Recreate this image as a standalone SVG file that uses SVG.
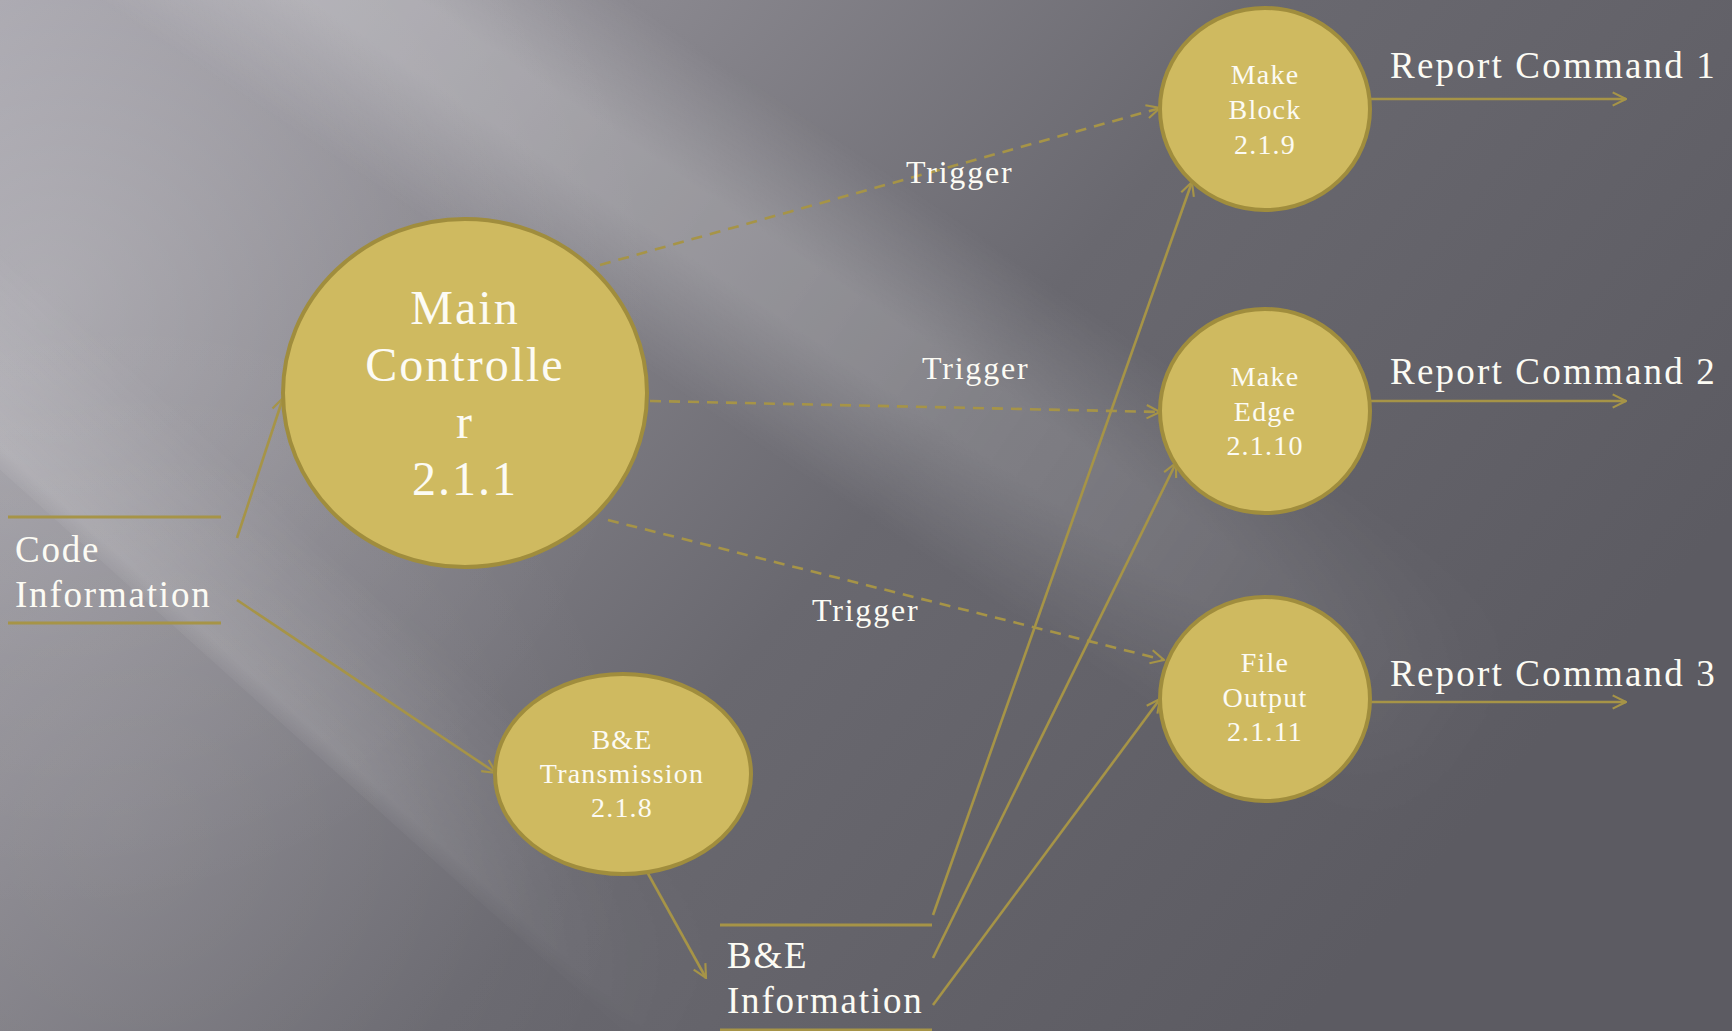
<svg xmlns="http://www.w3.org/2000/svg" width="1732" height="1031" viewBox="0 0 1732 1031">
  <style>
    .bubble { fill: #cfba60; stroke: #a08d3d; stroke-width: 4; }
    .flow { fill: none; stroke: #a69447; stroke-width: 2.6; }
    .trig { fill: none; stroke: #a69447; stroke-width: 2.6; stroke-dasharray: 11 8; }
    .store { stroke: #a69447; stroke-width: 3; }
    .lbl { fill: #fcfbf4; font-family: "Liberation Serif", "Times New Roman", serif; }
    .big { font-size: 48px; letter-spacing: 2px; text-anchor: middle; }
    .small { font-size: 28px; letter-spacing: 1.2px; text-anchor: middle; }
    .trg { font-size: 32px; letter-spacing: 1.8px; }
    .rep { font-size: 37px; letter-spacing: 2.2px; }
    .data { font-size: 37px; letter-spacing: 1.8px; }
  </style>
  <defs>
    <linearGradient id="bgBase" x1="0" y1="0" x2="1" y2="0.5">
      <stop offset="0" stop-color="#a6a4ac"/>
      <stop offset="0.3" stop-color="#8a888f"/>
      <stop offset="0.6" stop-color="#69686f"/>
      <stop offset="1" stop-color="#5c5b62"/>
    </linearGradient>
    <radialGradient id="glow" cx="40" cy="300" r="620" gradientUnits="userSpaceOnUse">
      <stop offset="0" stop-color="#ffffff" stop-opacity="0.2"/>
      <stop offset="0.6" stop-color="#ffffff" stop-opacity="0.05"/>
      <stop offset="1" stop-color="#ffffff" stop-opacity="0"/>
    </radialGradient>
    <radialGradient id="lowGlow" cx="120" cy="820" r="520" gradientUnits="userSpaceOnUse">
      <stop offset="0" stop-color="#ffffff" stop-opacity="0.08"/>
      <stop offset="1" stop-color="#ffffff" stop-opacity="0"/>
    </radialGradient>
    <linearGradient id="bandAcross" x1="0" y1="0" x2="0" y2="1">
      <stop offset="0" stop-color="#ffffff" stop-opacity="0"/>
      <stop offset="0.4" stop-color="#ffffff" stop-opacity="0.26"/>
      <stop offset="0.6" stop-color="#ffffff" stop-opacity="0.26"/>
      <stop offset="1" stop-color="#ffffff" stop-opacity="0"/>
    </linearGradient>
    <linearGradient id="edgeGlow" x1="0" y1="0" x2="0" y2="1">
      <stop offset="0" stop-color="#ffffff" stop-opacity="0"/>
      <stop offset="0.9" stop-color="#ffffff" stop-opacity="0.16"/>
      <stop offset="1" stop-color="#ffffff" stop-opacity="0.05"/>
    </linearGradient>
    <linearGradient id="bandAlong" x1="0" y1="0" x2="1" y2="0">
      <stop offset="0" stop-color="#ffffff" stop-opacity="1"/>
      <stop offset="0.6" stop-color="#ffffff" stop-opacity="0.75"/>
      <stop offset="1" stop-color="#ffffff" stop-opacity="0"/>
    </linearGradient>
    <mask id="fadeAlong" maskContentUnits="objectBoundingBox">
      <rect x="0" y="0" width="1" height="1" fill="url(#bandAlong)"/>
    </mask>
    <marker id="chev" viewBox="0 0 12 12" refX="11" refY="6" markerWidth="16" markerHeight="16" markerUnits="userSpaceOnUse" orient="auto">
      <path d="M1,1 L11,6 L1,11" fill="none" stroke="#a69447" stroke-width="1.6"/>
    </marker>
  </defs>

  <!-- backdrop with diagonal light streaks -->
  <rect width="1732" height="1031" fill="url(#bgBase)"/>
  <rect width="1732" height="1031" fill="url(#glow)"/>
  <rect width="1732" height="1031" fill="url(#lowGlow)"/>
  <g transform="translate(365 0) rotate(34)">
    <rect x="-400" y="-150" width="1750" height="300" fill="url(#bandAcross)" mask="url(#fadeAlong)"/>
  </g>
  <g transform="translate(0 470) rotate(42)">
    <rect x="-200" y="-170" width="1100" height="170" fill="url(#edgeGlow)" mask="url(#fadeAlong)"/>
  </g>

  <!-- connectors -->
  <g id="connectors">
    <line class="flow" x1="237" y1="538" x2="283" y2="398" marker-end="url(#chev)"/>
    <line class="flow" x1="237" y1="600" x2="496" y2="773" marker-end="url(#chev)"/>
    <line class="flow" x1="646" y1="870" x2="706" y2="978" marker-end="url(#chev)"/>
    <line class="trig" x1="600" y1="265" x2="1160" y2="108" marker-end="url(#chev)"/>
    <line class="trig" x1="650" y1="401" x2="1160" y2="412" marker-end="url(#chev)"/>
    <line class="trig" x1="608" y1="520" x2="1164" y2="660" marker-end="url(#chev)"/>
    <line class="flow" x1="933" y1="915" x2="1192" y2="182" marker-end="url(#chev)"/>
    <line class="flow" x1="933" y1="958" x2="1176" y2="463" marker-end="url(#chev)"/>
    <line class="flow" x1="933" y1="1005" x2="1160" y2="699" marker-end="url(#chev)"/>
    <line class="flow" x1="1371" y1="99" x2="1626" y2="99" marker-end="url(#chev)"/>
    <line class="flow" x1="1371" y1="401" x2="1626" y2="401" marker-end="url(#chev)"/>
    <line class="flow" x1="1371" y1="702" x2="1626" y2="702" marker-end="url(#chev)"/>
  </g>

  <g id="code-information">
    <line class="store" x1="8" y1="517" x2="221" y2="517"/>
    <line class="store" x1="8" y1="623" x2="221" y2="623"/>
    <text class="lbl data" x="15"><tspan x="15" y="562">Code</tspan><tspan x="15" y="607">Information</tspan></text>
  </g>

  <g id="be-information">
    <line class="store" x1="720" y1="925" x2="932" y2="925"/>
    <line class="store" x1="720" y1="1030" x2="932" y2="1030"/>
    <text class="lbl data" x="727"><tspan x="727" y="968">B&amp;E</tspan><tspan x="727" y="1013">Information</tspan></text>
  </g>

  <g id="main-controller">
    <ellipse class="bubble" cx="465" cy="393" rx="182" ry="174"/>
    <text class="lbl big"><tspan x="465" y="324">Main</tspan><tspan x="465" y="381">Controlle</tspan><tspan x="465" y="438">r</tspan><tspan x="465" y="495">2.1.1</tspan></text>
  </g>

  <g id="be-transmission">
    <ellipse class="bubble" cx="623" cy="774" rx="128" ry="100"/>
    <text class="lbl small"><tspan x="622" y="749">B&amp;E</tspan><tspan x="622" y="783">Transmission</tspan><tspan x="622" y="817">2.1.8</tspan></text>
  </g>

  <g id="make-block">
    <ellipse class="bubble" cx="1265" cy="109" rx="105" ry="101"/>
    <text class="lbl small"><tspan x="1265" y="84">Make</tspan><tspan x="1265" y="119">Block</tspan><tspan x="1265" y="154">2.1.9</tspan></text>
  </g>

  <g id="make-edge">
    <ellipse class="bubble" cx="1265" cy="411" rx="105" ry="102"/>
    <text class="lbl small"><tspan x="1265" y="386">Make</tspan><tspan x="1265" y="421">Edge</tspan><tspan x="1265" y="455">2.1.10</tspan></text>
  </g>

  <g id="file-output">
    <ellipse class="bubble" cx="1265" cy="699" rx="105" ry="102"/>
    <text class="lbl small"><tspan x="1265" y="672">File</tspan><tspan x="1265" y="707">Output</tspan><tspan x="1265" y="741">2.1.11</tspan></text>
  </g>

  <g id="flow-labels">
    <text class="lbl trg" x="906" y="183">Trigger</text>
    <text class="lbl trg" x="922" y="379">Trigger</text>
    <text class="lbl trg" x="812" y="621">Trigger</text>
    <text class="lbl rep" x="1390" y="78">Report Command 1</text>
    <text class="lbl rep" x="1390" y="384">Report Command 2</text>
    <text class="lbl rep" x="1390" y="686">Report Command 3</text>
  </g>
</svg>
